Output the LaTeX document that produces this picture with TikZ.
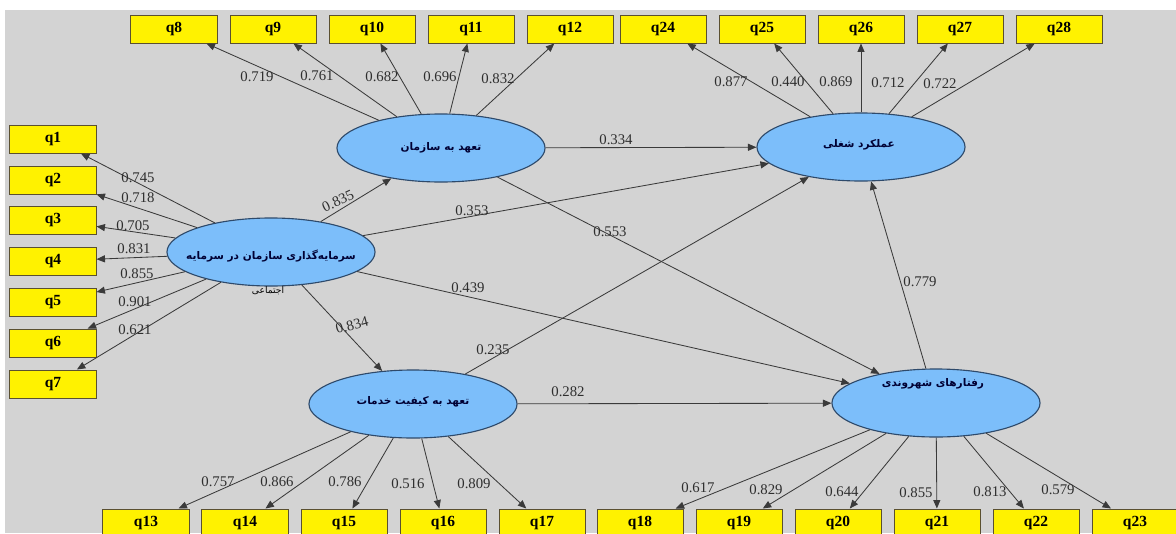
\documentclass[tikz,border=0pt]{standalone}
\usepackage{fontspec}
\setmainfont{Liberation Serif}
\newfontfamily\fa[Script=Arabic]{DejaVu Sans}
\TeXXeTstate=1
\usetikzlibrary{shapes.geometric,arrows.meta}
\definecolor{bg}{HTML}{D3D3D3}
\definecolor{latfill}{HTML}{7CBEFA}
\definecolor{latline}{HTML}{2E4A6B}
\definecolor{itemline}{HTML}{5A5030}
\definecolor{linkgray}{HTML}{3A3A3A}
\definecolor{coefgray}{HTML}{2E2E2E}
\tikzset{
  latent/.style={ellipse, draw=latline, fill=latfill, line width=0.8pt,
    minimum width=5.2cm, minimum height=1.7cm, inner sep=0pt},
  ltext/.style={font=\fa\bfseries\fontsize{7.5}{9}\selectfont, text=black!80!blue, inner sep=0pt},
  small/.style={font=\fa\fontsize{6.5}{7}\selectfont, inner sep=0pt},
  item/.style={rectangle, draw=itemline, fill=yellow, line width=0.7pt,
    minimum width=2.15cm, minimum height=0.7cm, inner sep=0pt,
    font=\bfseries\fontsize{11}{13}\selectfont},
  link/.style={color=linkgray, line width=0.6pt, -{Triangle[length=6pt,width=5pt]}},
  coef/.style={font=\fontsize{10.5}{12}\selectfont, text=coefgray, inner sep=1pt},
}
\begin{document}
\begin{tikzpicture}[x=0.025cm, y=-0.025cm]
  \useasboundingbox (0,0) rectangle (1176,533);
  \clip (0,0) rectangle (1176,533);
  \fill[bg] (5,10) rectangle (1176,533);
  % latent variables
  \node[latent] (S) at (271,252) {};
  \node[ltext] (St) at (271,256) {\beginR سرمایه‌گذاری سازمان در سرمایه\endR};
  \node[small] (Sb) at (268,291) {\beginR اجتماعی\endR};
  \node[latent] (O) at (441,148) {};
  \node[ltext] (Ot) at (441,148) {\beginR تعهد به سازمان\endR};
  \node[latent] (J) at (861,147) {};
  \node[ltext] (Jt) at (859,145) {\beginR عملکرد شغلی\endR};
  \node[latent] (K) at (413,404) {};
  \node[ltext] (Kt) at (413,402) {\beginR تعهد به کیفیت خدمات\endR};
  \node[latent] (C) at (936,403) {};
  \node[ltext] (Ct) at (933,384) {\beginR رفتارهای شهروندی\endR};
  % indicators
  \node[item] (q1) at (53,139) {q1};
  \node[item] (q2) at (53,180) {q2};
  \node[item] (q3) at (53,220) {q3};
  \node[item] (q4) at (53,261) {q4};
  \node[item] (q5) at (53,302) {q5};
  \node[item] (q6) at (53,343) {q6};
  \node[item] (q7) at (53,384) {q7};
  \node[item] (q8) at (174,29) {q8};
  \node[item] (q9) at (273,29) {q9};
  \node[item] (q10) at (372,29) {q10};
  \node[item] (q11) at (471,29) {q11};
  \node[item] (q12) at (570,29) {q12};
  \node[item] (q24) at (663,29) {q24};
  \node[item] (q25) at (762,29) {q25};
  \node[item] (q26) at (861,29) {q26};
  \node[item] (q27) at (960,29) {q27};
  \node[item] (q28) at (1059,29) {q28};
  \node[item] (q13) at (146,523) {q13};
  \node[item] (q14) at (245,523) {q14};
  \node[item] (q15) at (344,523) {q15};
  \node[item] (q16) at (443,523) {q16};
  \node[item] (q17) at (542,523) {q17};
  \node[item] (q18) at (640,523) {q18};
  \node[item] (q19) at (739,523) {q19};
  \node[item] (q20) at (838,523) {q20};
  \node[item] (q21) at (937,523) {q21};
  \node[item] (q22) at (1036,523) {q22};
  \node[item] (q23) at (1135,523) {q23};
  \begin{scope}[link]
    \draw (S) to (q1);
    \draw (S) to (q2);
    \draw (S) to (q3);
    \draw (S) to (q4);
    \draw (S) to (q5);
    \draw (S) to (q6);
    \draw (S) to (q7);
    \draw (O) to (q8);
    \draw (O) to (q9);
    \draw (O) to (q10);
    \draw (O) to (q11);
    \draw (O) to (q12);
    \draw (J) to (q24);
    \draw (J) to (q25);
    \draw (J) to (q26);
    \draw (J) to (q27);
    \draw (J) to (q28);
    \draw (K) to (q13);
    \draw (K) to (q14);
    \draw (K) to (q15);
    \draw (K) to (q16);
    \draw (K) to (q17);
    \draw (C) to (q18);
    \draw (C) to (q19);
    \draw (C) to (q20);
    \draw (C) to (q21);
    \draw (C) to (q22);
    \draw (C) to (q23);
    \draw (S) to (O);
    \draw (S) to (J);
    \draw (S) to (C);
    \draw (S) to (K);
    \draw (O) to (J);
    \draw (O) to (C);
    \draw (K) to (J);
    \draw (K) to (C);
    \draw (C) to (J);
  \end{scope}
  % coefficients
  \node[coef] (c1) at (138,178) {0.745};
  \node[coef] (c2) at (138,198) {0.718};
  \node[coef] (c3) at (133,226) {0.705};
  \node[coef] (c4) at (134,249) {0.831};
  \node[coef] (c5) at (137,274) {0.855};
  \node[coef] (c6) at (135,302) {0.901};
  \node[coef] (c7) at (135,330) {0.621};
  \node[coef] (c8) at (257,77) {0.719};
  \node[coef] (c9) at (317,76) {0.761};
  \node[coef] (c10) at (382,77) {0.682};
  \node[coef] (c11) at (440,77) {0.696};
  \node[coef] (c12) at (498,79) {0.832};
  \node[coef] (c24) at (731,82) {0.877};
  \node[coef] (c25) at (788,82) {0.440};
  \node[coef] (c26) at (836,82) {0.869};
  \node[coef] (c27) at (888,83) {0.712};
  \node[coef] (c28) at (940,84) {0.722};
  \node[coef] (c13) at (218,482) {0.757};
  \node[coef] (c14) at (277,482) {0.866};
  \node[coef] (c15) at (345,482) {0.786};
  \node[coef] (c16) at (408,484) {0.516};
  \node[coef] (c17) at (474,484) {0.809};
  \node[coef] (c18) at (698,488) {0.617};
  \node[coef] (c19) at (766,490) {0.829};
  \node[coef] (c20) at (842,492) {0.644};
  \node[coef] (c21) at (916,493) {0.855};
  \node[coef] (c22) at (990,492) {0.813};
  \node[coef] (c23) at (1058,490) {0.579};
  \node[coef, rotate=25] (cSO) at (338,201) {0.835};
  \node[coef] (cSJ) at (472,211) {0.353};
  \node[coef] (cSC) at (468,288) {0.439};
  \node[coef, rotate=15] (cSK) at (352,325) {0.834};
  \node[coef] (cOJ) at (616,140) {0.334};
  \node[coef] (cOC) at (610,232) {0.553};
  \node[coef] (cKJ) at (493,350) {0.235};
  \node[coef] (cKC) at (568,392) {0.282};
  \node[coef] (cCJ) at (920,282) {0.779};
\end{tikzpicture}
\end{document}
